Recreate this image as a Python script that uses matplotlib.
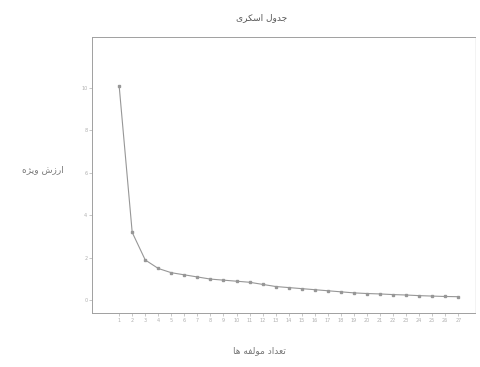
import matplotlib
matplotlib.use("Agg")
import matplotlib.pyplot as plt

# Data
components = list(range(1, 28))
eigenvalues = [10.1, 3.2, 1.9, 1.5, 1.3, 1.2, 1.1, 1.0, 0.95, 0.9, 0.85, 0.75,
               0.65, 0.6, 0.55, 0.5, 0.45, 0.4, 0.35, 0.32, 0.3, 0.27, 0.25,
               0.22, 0.2, 0.18, 0.17]
y_ticks = [0, 2, 4, 6, 8, 10]

# Persian labels (pre-shaped presentation forms, visual order)
title_text = "\uFBFC\uFEAE\uFB91\uFEB3\uFE8D \uFEDD\uFEED\uFEAA\uFE9F"      # جدول اسکری
ylabel_text = "\uFEE9\uFB8B\uFBFE\uFEED \uFEB5\uFEAF\uFEAD\uFE8D"           # ارزش ویژه
xlabel_text = "\uFE8E\uFEEB \uFEEA\uFED4\uFEDF\uFEEE\uFEE3 \uFEA9\uFE8D\uFEAA\uFECC\uFE97"  # تعداد مولفه ها

plt.rcParams['font.family'] = ['DejaVu Sans']

fig = plt.figure(figsize=(4.80, 3.67), dpi=100)
ax = fig.add_axes([0.192, 0.147, 0.798, 0.752])

grey = "#979797"
ax.plot(components, eigenvalues, color=grey, linewidth=0.8,
        marker='s', markersize=1.7, markerfacecolor=grey, markeredgecolor=grey)

ax.set_xlim(-1.07, 28.3)
ax.set_ylim(-0.6, 12.4)
ax.set_xticks(components)
ax.set_xticklabels([str(c) for c in components], fontsize=3.5, color="#a5a5a5")
ax.set_yticks(y_ticks)
ax.set_yticklabels([str(v) for v in y_ticks], fontsize=3.5, color="#a5a5a5")
ax.tick_params(axis='both', length=2, width=0.5, colors="#b0b0b0", pad=1.5)

for side in ['top', 'left', 'bottom']:
    ax.spines[side].set_color("#a0a0a0")
    ax.spines[side].set_linewidth(0.7)
ax.spines['right'].set_color("#eeeeee")
ax.spines['right'].set_linewidth(0.5)

fig.text(0.546, 0.952, title_text, ha='center', va='center', fontsize=6.5, color="#555555")
fig.text(0.09, 0.537, ylabel_text, ha='center', va='center', fontsize=6.5, color="#777777")
fig.text(0.54, 0.046, xlabel_text, ha='center', va='center', fontsize=6.5, color="#777777")

fig.savefig("out.png", dpi=100)
